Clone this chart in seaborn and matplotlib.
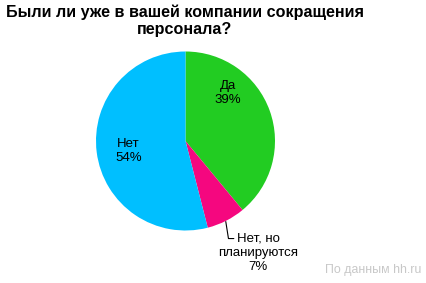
import matplotlib
matplotlib.use("Agg")
import matplotlib.pyplot as plt
import seaborn as sns

categories = ["Да", "Нет, но\nпланируются", "Нет"]
values = [39, 7, 54]
colors = ["#22CC22", "#F5077F", "#00BFFF"]
title = "Были ли уже в вашей компании сокращения\nперсонала?"
source = "По данным hh.ru"

sns.set_theme(style="white")
plt.rcParams["font.family"] = ["Liberation Sans", "DejaVu Sans"]

W, H = 427, 283
fig = plt.figure(figsize=(W / 100, H / 100), dpi=100)
fig.patch.set_facecolor("white")

cx, cy, r = 185.5, 141.0, 89.5
ax = fig.add_axes([(cx - r) / W, (H - cy - r) / H, 2 * r / W, 2 * r / H])
wedges, _ = ax.pie(values, colors=colors, startangle=90, counterclock=False,
                   radius=1.0, wedgeprops=dict(linewidth=0))
ax.set_xlim(-1, 1)
ax.set_ylim(-1, 1)
ax.set_aspect("equal")
ax.axis("off")

fs = 9.5
ax.text(0.47, 0.54, f"{categories[0]}\n{values[0]}%", ha="center", va="center",
        fontsize=fs, color="black", linespacing=1.25)
ax.text(-0.64, -0.11, f"{categories[2]}\n{values[2]}%", ha="center", va="center",
        fontsize=fs, color="black", linespacing=1.25)
ax.plot([0.45, 0.48, 0.54], [-0.90, -1.09, -1.09], color="black", lw=0.8,
        clip_on=False)
ax.text(0.81, -1.02, f"{categories[1]}\n{values[1]}%", ha="center", va="top",
        fontsize=fs, color="black", linespacing=1.25, clip_on=False)

fig.text(185 / W, 1 - 4 / H, title, ha="center", va="top", fontsize=11.6,
         fontweight="bold", color="black", linespacing=1.22)
fig.text(421 / W, 1 - 270 / H, source, ha="right", va="center", fontsize=8.9,
         color="#C8C8C8")

fig.savefig("out.png", dpi=100, facecolor="white")
